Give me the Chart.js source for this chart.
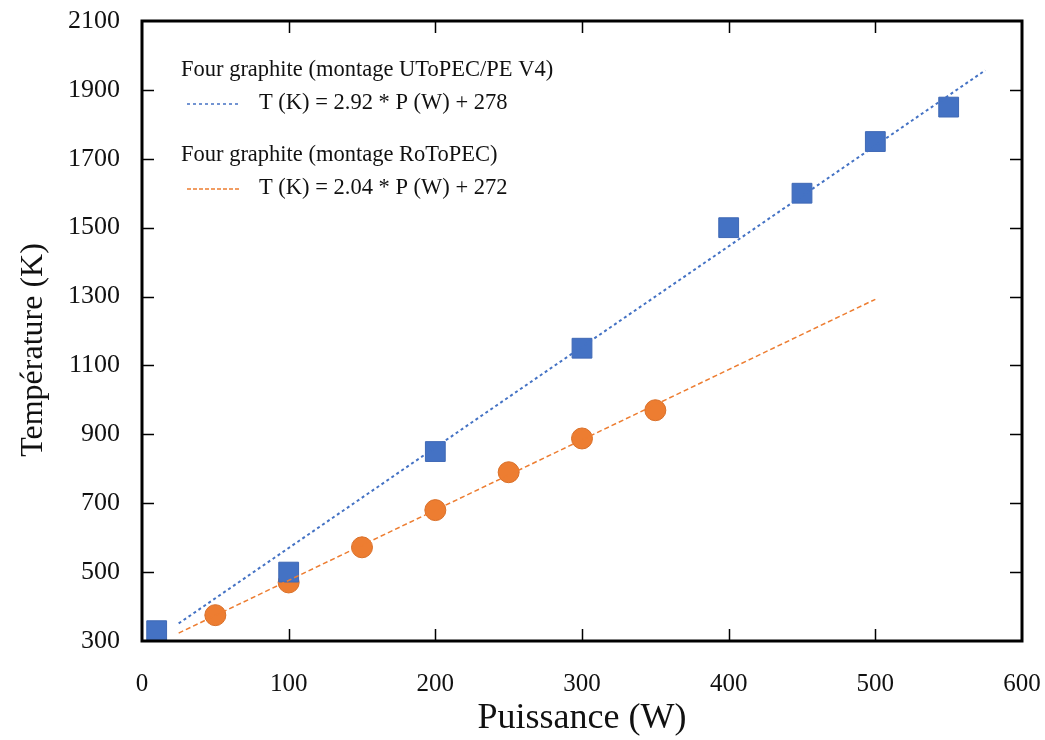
<!DOCTYPE html>
<html lang="fr">
<head>
    <meta charset="UTF-8">
    <title>Température vs Puissance</title>
    <script src="https://cdn.jsdelivr.net/npm/chart.js@4.4.1/dist/chart.umd.min.js"></script>
    <style>
        body { margin: 0; background: #fff; }
        #wrap { width: 1045px; height: 740px; position: relative; }
    </style>
</head>
<body>
    <div id="wrap"><canvas id="chart"></canvas></div>

    <script>
        // measured points
        const utopecPower = [10, 100, 200, 300, 400, 450, 500, 550];
        const utopecTemp = [330, 500, 850, 1150, 1500, 1600, 1750, 1850];
        const rotopecPower = [50, 100, 150, 200, 250, 300, 350];
        const rotopecTemp = [375, 470, 572, 680, 790, 888, 970];

        // fit lines (end points)
        const utopecFitPower = [25, 575];
        const utopecFitTemp = [351, 1957];
        const rotopecFitPower = [25, 500];
        const rotopecFitTemp = [323, 1292];

        const xTicks = [0, 100, 200, 300, 400, 500, 600];
        const yTicks = [300, 500, 700, 900, 1100, 1300, 1500, 1700, 1900, 2100];

        const yTitle = 'Température (K)';
        const legendHeaders = ['Four graphite (montage UToPEC/PE V4)', 'Four graphite (montage RoToPEC)'];
        const legendEquations = ['T (K) = 2.92 * P (W) + 278', 'T (K) = 2.04 * P (W) + 272'];

        const BLUE = '#4472C4';
        const ORANGE = '#ED7D31';
        const SERIF = '"Liberation Serif", "Times New Roman", serif';

        function toPoints(xs, ys) {
            return xs.map((x, i) => ({ x: x, y: ys[i] }));
        }

        // frame with inward ticks on all four sides + text legend + y title
        const framePlugin = {
            id: 'frame',
            afterDatasetsDraw(chart) {
                const ctx = chart.ctx;
                const a = chart.chartArea;
                const xs = chart.scales.x, ys = chart.scales.y;
                ctx.save();
                ctx.strokeStyle = '#000';
                ctx.lineWidth = 1.5;
                const len = 12;
                xTicks.slice(1, -1).forEach(v => {
                    const px = Math.round(xs.getPixelForValue(v)) + 0.5;
                    ctx.beginPath();
                    ctx.moveTo(px, a.bottom); ctx.lineTo(px, a.bottom - len);
                    ctx.moveTo(px, a.top); ctx.lineTo(px, a.top + len);
                    ctx.stroke();
                });
                yTicks.slice(1, -1).forEach(v => {
                    const py = Math.round(ys.getPixelForValue(v)) + 0.5;
                    ctx.beginPath();
                    ctx.moveTo(a.left, py); ctx.lineTo(a.left + len, py);
                    ctx.moveTo(a.right, py); ctx.lineTo(a.right - len, py);
                    ctx.stroke();
                });
                ctx.lineWidth = 3;
                ctx.strokeRect(a.left, a.top, a.right - a.left, a.bottom - a.top);

                // legend
                const colors = [BLUE, ORANGE];
                const dashes = [[3, 3], [4, 2]];
                const rows = [[70, 103], [155, 188]];
                ctx.font = '22.5px ' + SERIF;
                ctx.fillStyle = '#111';
                ctx.textBaseline = 'middle';
                for (let i = 0; i < 2; i++) {
                    ctx.fillText(legendHeaders[i], 181, rows[i][0]);
                    ctx.fillText(legendEquations[i], 259, rows[i][1]);
                    ctx.beginPath();
                    ctx.setLineDash(dashes[i]);
                    ctx.lineWidth = 1.5;
                    ctx.strokeStyle = colors[i];
                    ctx.moveTo(187, rows[i][1] + 1);
                    ctx.lineTo(240, rows[i][1] + 1);
                    ctx.stroke();
                    ctx.setLineDash([]);
                }

                // y axis title, sits a bit below the plot centre
                ctx.translate(34, 350);
                ctx.rotate(-Math.PI / 2);
                ctx.textAlign = 'center';
                ctx.font = '32px ' + SERIF;
                ctx.fillText(yTitle, 0, 0);
                ctx.restore();
            }
        };

        new Chart(document.getElementById('chart'), {
            type: 'scatter',
            data: {
                datasets: [
                    {
                        label: 'Fit UToPEC',
                        data: toPoints(utopecFitPower, utopecFitTemp),
                        showLine: true,
                        borderColor: BLUE,
                        borderWidth: 2,
                        borderDash: [3, 3],
                        pointRadius: 0
                    },
                    {
                        label: 'Fit RoToPEC',
                        data: toPoints(rotopecFitPower, rotopecFitTemp),
                        showLine: true,
                        borderColor: ORANGE,
                        borderWidth: 1.5,
                        borderDash: [5, 3],
                        pointRadius: 0
                    },
                    {
                        label: 'UToPEC/PE V4',
                        data: toPoints(utopecPower, utopecTemp),
                        pointStyle: 'rect',
                        pointRadius: 14,
                        backgroundColor: BLUE,
                        borderColor: '#3f68b5',
                        borderWidth: 1
                    },
                    {
                        label: 'RoToPEC',
                        data: toPoints(rotopecPower, rotopecTemp),
                        pointStyle: 'circle',
                        pointRadius: 10.5,
                        backgroundColor: ORANGE,
                        borderColor: '#d96f28',
                        borderWidth: 1
                    }
                ]
            },
            options: {
                responsive: true,
                maintainAspectRatio: false,
                animation: false,
                layout: { padding: { top: 21, right: 23, left: 0, bottom: 0 } },
                plugins: {
                    legend: { display: false },
                    tooltip: { enabled: false }
                },
                scales: {
                    x: {
                        type: 'linear',
                        min: 0,
                        max: 600,
                        afterBuildTicks: s => { s.ticks = xTicks.map(v => ({ value: v })); },
                        afterFit: s => { s.height = 99; s.paddingLeft = 0; s.paddingRight = 0; },
                        grid: { display: false },
                        border: { display: false },
                        ticks: {
                            color: '#111',
                            padding: 20,
                            font: { family: SERIF, size: 25 },
                            callback: v => String(v)
                        },
                        title: {
                            display: true,
                            text: 'Puissance (W)',
                            color: '#111',
                            font: { family: SERIF, size: 36 },
                            padding: { top: 0, bottom: 0 }
                        }
                    },
                    y: {
                        type: 'linear',
                        min: 300,
                        max: 2100,
                        afterBuildTicks: s => { s.ticks = yTicks.map(v => ({ value: v })); },
                        afterFit: s => { s.width = 142; s.paddingTop = 0; s.paddingBottom = 0; },
                        grid: { display: false },
                        border: { display: false },
                        ticks: {
                            color: '#111',
                            padding: 14,
                            font: { family: SERIF, size: 26 },
                            callback: v => String(v)
                        },
                        title: { display: false }
                    }
                }
            },
            plugins: [framePlugin]
        });
    </script>
</body>
</html>
